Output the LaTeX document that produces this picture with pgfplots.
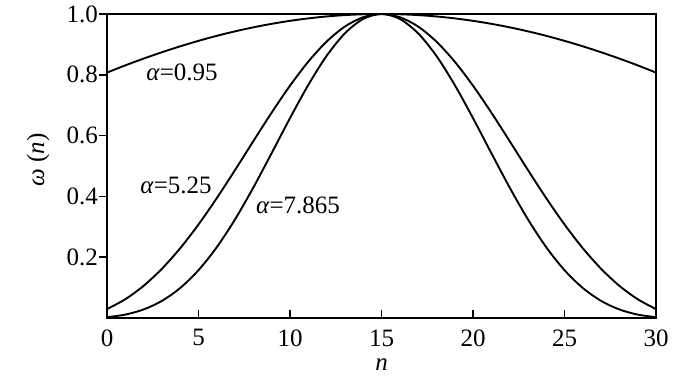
\documentclass[border=0pt]{standalone}
\usepackage{pgfplots}
\pgfplotsset{compat=1.18}
\usepackage{fontspec}
\setmainfont{Liberation Serif}
\begin{document}
\begin{tikzpicture}[x=1pt,y=1pt]
\path[use as bounding box] (-107,-62) rectangle (593,318);
\begin{axis}[
  scale only axis, width=549pt, height=304pt,
  at={(0,0)}, anchor=south west,
  xmin=0, xmax=30, ymin=0, ymax=1,
  xtick={0,5,...,30}, ytick={0.2,0.4,0.6,0.8,1.0},
  xtick pos=bottom, ytick pos=left,
  xtick align=inside, ytick align=outside,
  major tick length=8pt,
  axis line style={line width=1.8pt},
  every tick/.style={line width=1.5pt, black},
  /pgf/number format/assume math mode=true,
  yticklabel style={/pgf/number format/fixed, /pgf/number format/fixed zerofill, /pgf/number format/precision=1, inner sep=1pt},
  xticklabel style={yshift=-8pt},
  tick label style={font=\fontsize{25}{28}\selectfont},
  label style={font=\fontsize{25}{28}\selectfont},
  xlabel={\textit{n}}, ylabel={\textit{ω} (\textit{n})},
  xlabel style={at={(axis description cs:0.5,0)}, anchor=base, yshift=-52pt},
  ylabel style={at={(axis description cs:-0.1257,0.52)}, anchor=center},
  clip=true,
]
\addplot[black, line width=1.9pt, smooth] coordinates {
(0,0.8073)(1,0.8310)(2,0.8533)(3,0.8742)(4,0.8937)(5,0.9117)(6,0.9282)(7,0.9430)(8,0.9562)(9,0.9677)(10,0.9775)(11,0.9856)(12,0.9919)(13,0.9964)(14,0.9991)(15,1.0000)
(16,0.9991)(17,0.9964)(18,0.9919)(19,0.9856)(20,0.9775)(21,0.9677)(22,0.9562)(23,0.9430)(24,0.9282)(25,0.9117)(26,0.8937)(27,0.8742)(28,0.8533)(29,0.8310)(30,0.8073)};
\addplot[black, line width=1.9pt, smooth] coordinates {
(0,0.0293)(1,0.0618)(2,0.1058)(3,0.1619)(4,0.2295)(5,0.3077)(6,0.3944)(7,0.4870)(8,0.5821)(9,0.6758)(10,0.7642)(11,0.8433)(12,0.9092)(13,0.9588)(14,0.9895)(15,1.0000)
(16,0.9895)(17,0.9588)(18,0.9092)(19,0.8433)(20,0.7642)(21,0.6758)(22,0.5821)(23,0.4870)(24,0.3944)(25,0.3077)(26,0.2295)(27,0.1619)(28,0.1058)(29,0.0618)(30,0.0293)};
\addplot[black, line width=1.9pt, smooth] coordinates {
(0,0.0027)(1,0.0112)(2,0.0281)(3,0.0563)(4,0.0987)(5,0.1573)(6,0.2330)(7,0.3247)(8,0.4295)(9,0.5426)(10,0.6575)(11,0.7667)(12,0.8622)(13,0.9365)(14,0.9838)(15,1.0000)
(16,0.9838)(17,0.9365)(18,0.8622)(19,0.7667)(20,0.6575)(21,0.5426)(22,0.4295)(23,0.3247)(24,0.2330)(25,0.1573)(26,0.0987)(27,0.0563)(28,0.0281)(29,0.0112)(30,0.0027)};
\node[font=\fontsize{25}{28}\selectfont] at (axis cs:4.1,0.809) {\textit{α}=0.95};
\node[font=\fontsize{25}{28}\selectfont] at (axis cs:3.77,0.4375) {\textit{α}=5.25};
\node[font=\fontsize{25}{28}\selectfont] at (axis cs:10.44,0.372) {\textit{α}=7.865};
\end{axis}
\end{tikzpicture}
\end{document}
